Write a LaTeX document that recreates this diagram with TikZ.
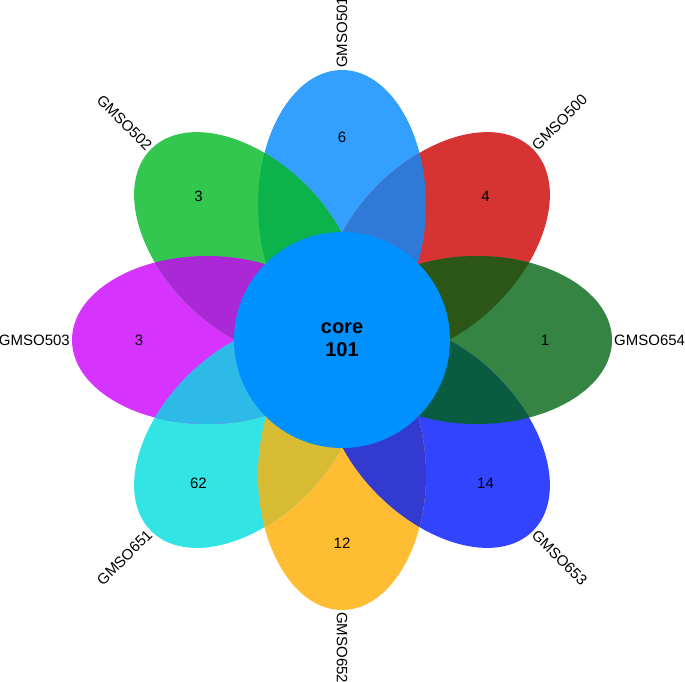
\documentclass[tikz,border=0pt]{standalone}
\usepackage{fontspec}
\setmainfont{Liberation Sans}
\definecolor{cA}{RGB}{51,160,255}
\definecolor{cB}{RGB}{214,51,51}
\definecolor{cC}{RGB}{53,132,68}
\definecolor{cD}{RGB}{51,68,255}
\definecolor{cE}{RGB}{255,189,51}
\definecolor{cF}{RGB}{51,228,229}
\definecolor{cG}{RGB}{214,51,255}
\definecolor{cH}{RGB}{51,199,79}
\definecolor{coreblue}{RGB}{0,145,255}
\definecolor{oAB}{RGB}{46,122,214}
\definecolor{oBC}{RGB}{44,86,23}
\definecolor{oCD}{RGB}{10,92,64}
\definecolor{oDE}{RGB}{50,58,207}
\definecolor{oEF}{RGB}{214,187,51}
\definecolor{oFG}{RGB}{46,186,230}
\definecolor{oGH}{RGB}{170,40,214}
\definecolor{oHA}{RGB}{11,179,74}
\newcommand\petalfill[2]{\fill[#2, rotate around={#1:(342,-340)}] (477,-340) ellipse [x radius=135pt, y radius=84pt];}
\newcommand\overlapfill[3]{\begin{scope}\clip[rotate around={#1:(342,-340)}] (477,-340) ellipse [x radius=135pt, y radius=84pt];\petalfill{#2}{#3}\end{scope}}
\begin{document}
\begin{tikzpicture}[x=1pt,y=1pt,
  lab/.style={font=\fontsize{15}{18}\selectfont, inner sep=1pt},
  num/.style={font=\fontsize{15}{18}\selectfont, inner sep=0pt}]
\useasboundingbox (0,0) rectangle (685,-682);
\clip (0,0) rectangle (685,-682);
\coordinate (C) at (342,-340);
% petals
\petalfill{90}{cA}
\petalfill{45}{cB}
\petalfill{0}{cC}
\petalfill{-45}{cD}
\petalfill{-90}{cE}
\petalfill{-135}{cF}
\petalfill{180}{cG}
\petalfill{135}{cH}
% overlaps of neighbouring petals
\overlapfill{90}{45}{oAB}
\overlapfill{45}{0}{oBC}
\overlapfill{0}{-45}{oCD}
\overlapfill{-45}{-90}{oDE}
\overlapfill{-90}{-135}{oEF}
\overlapfill{-135}{180}{oFG}
\overlapfill{180}{135}{oGH}
\overlapfill{135}{90}{oHA}
% core
\node[circle, fill=coreblue, minimum size=216pt, inner sep=0pt, align=center,
  font=\fontsize{20}{23}\selectfont\bfseries] (core) at (C) {core\\101};
% counts
\node[num] (n501) at ([shift={(90:203)}]C) {6};
\node[num] (n500) at ([shift={(45:203)}]C) {4};
\node[num] (n654) at ([shift={(0:203)}]C) {1};
\node[num] (n653) at ([shift={(-45:203)}]C) {14};
\node[num] (n652) at ([shift={(-90:203)}]C) {12};
\node[num] (n651) at ([shift={(-135:203)}]C) {62};
\node[num] (n503) at ([shift={(180:203)}]C) {3};
\node[num] (n502) at ([shift={(135:203)}]C) {3};
% names
\node[lab, rotate=90, anchor=west] (l501) at ([shift={(90:271)}]C) {GMSO501};
\node[lab, rotate=45, anchor=west] (l500) at ([shift={(45:271)}]C) {GMSO500};
\node[lab, anchor=west] (l654) at ([shift={(0:271)}]C) {GMSO654};
\node[lab, rotate=-45, anchor=west] (l653) at ([shift={(-45:271)}]C) {GMSO653};
\node[lab, rotate=-90, anchor=west] (l652) at ([shift={(-90:271)}]C) {GMSO652};
\node[lab, rotate=45, anchor=east] (l651) at ([shift={(-135:271)}]C) {GMSO651};
\node[lab, anchor=east] (l503) at ([shift={(180:271)}]C) {GMSO503};
\node[lab, rotate=-45, anchor=east] (l502) at ([shift={(135:271)}]C) {GMSO502};
\end{tikzpicture}
\end{document}
